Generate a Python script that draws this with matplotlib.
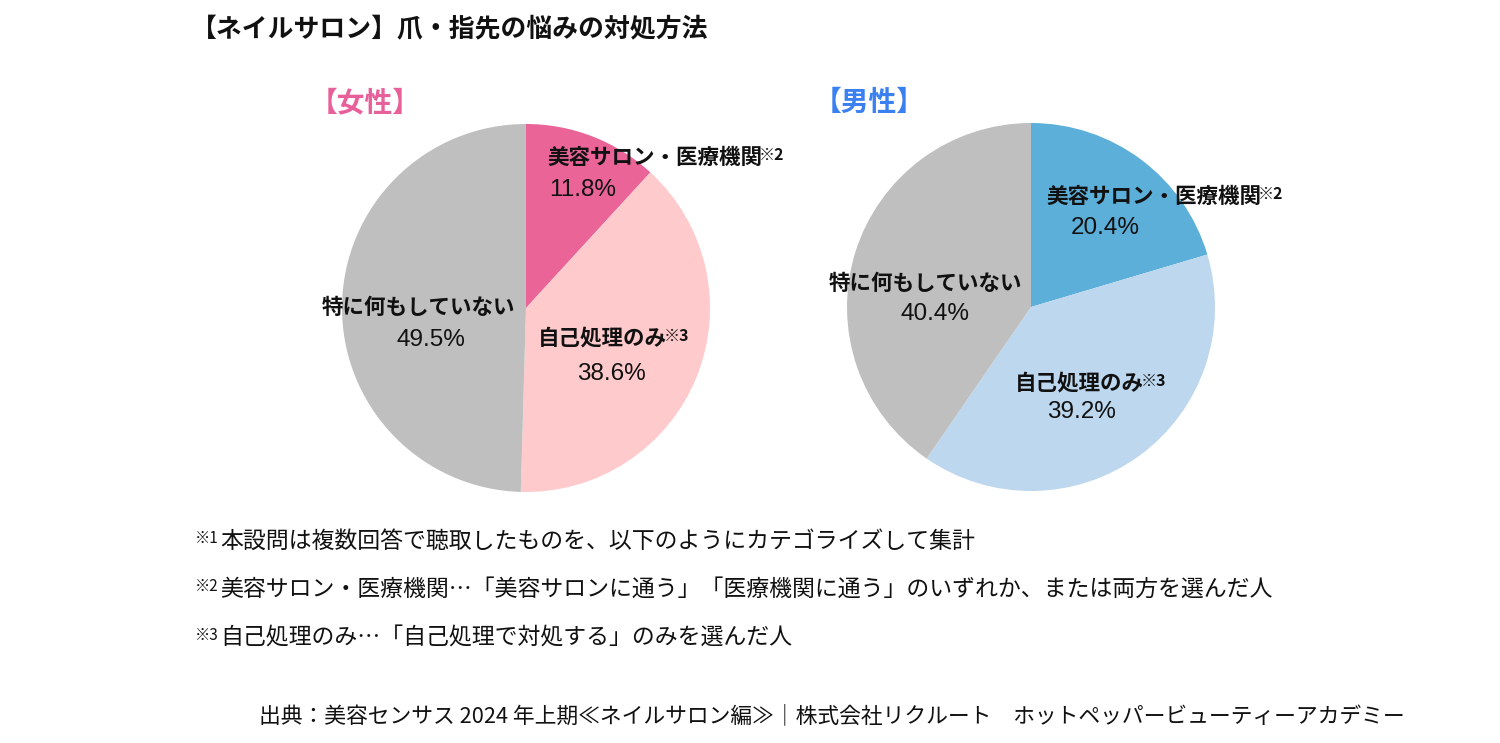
import matplotlib
matplotlib.use("Agg")
import matplotlib.pyplot as plt

plt.rcParams['font.family'] = ['Noto Sans CJK JP', 'DejaVu Sans']

W, H = 1500, 743

title = "【ネイルサロン】爪・指先の悩みの対処方法"
categories = ["美容サロン・医療機関", "自己処理のみ", "特に何もしていない"]
cat_notes = ["※2", "※3", ""]
groups = ["【女性】", "【男性】"]
female_values = [11.8, 38.6, 49.5]
male_values = [20.4, 39.2, 40.4]
female_colors = ["#EA6498", "#FFCACB", "#BFBFBF"]
male_colors = ["#5CAFD8", "#BDD7EE", "#BFBFBF"]
group_colors = ["#E8609A", "#3A80F0"]
footnotes = [
    ("※1", "本設問は複数回答で聴取したものを、以下のようにカテゴライズして集計"),
    ("※2", "美容サロン・医療機関…「美容サロンに通う」「医療機関に通う」のいずれか、または両方を選んだ人"),
    ("※3", "自己処理のみ…「自己処理で対処する」のみを選んだ人"),
]
source = "出典：美容センサス 2024 年上期≪ネイルサロン編≫｜株式会社リクルート　ホットペッパービューティーアカデミー"

fig = plt.figure(figsize=(W / 100, H / 100), dpi=100)
fig.patch.set_facecolor("white")


def fx(x):
    return x / W


def fy(y):
    return 1 - y / H


def add_text(x, y, s, **kw):
    return fig.text(fx(x), fy(y), s, **kw)


# title
add_text(191, 30, title, fontsize=18.6, fontweight='bold', va='center', ha='left', color='#111111')

# pies: (center x, center y, radius) in pixels
pie_geoms = [(526, 308, 184), (1031, 307, 184)]
all_values = [female_values, male_values]
all_colors = [female_colors, male_colors]
group_pos = [(310, 103), (814, 103)]

# label layouts: per pie, per category: (x, y, ha) for name, (x, y, ha) for value
label_layout = [
    [((547, 157, 'left'), (549, 190, 'left')),
     ((538, 338, 'left'), (611, 374, 'center')),
     ((418, 307, 'center'), (431, 340, 'center'))],
    [((1046, 196, 'left'), (1105, 228, 'center')),
     ((1015, 383, 'left'), (1081, 412, 'center')),
     ((925, 283, 'center'), (935, 314, 'center'))],
]

pie_axes = []
for i, (cx, cy, r) in enumerate(pie_geoms):
    ax = fig.add_axes([fx(cx - r), fy(cy + r), 2 * r / W, 2 * r / H])
    ax.pie(all_values[i], colors=all_colors[i], startangle=90, counterclock=False,
           radius=1, wedgeprops=dict(linewidth=0))
    ax.set_xlim(-1, 1)
    ax.set_ylim(-1, 1)
    ax.set_aspect('auto')
    ax.axis('off')
    pie_axes.append(ax)

    gx, gy = group_pos[i]
    add_text(gx, gy, groups[i], fontsize=20, fontweight='bold', color=group_colors[i],
             va='center', ha='left')

    for j, cat in enumerate(categories):
        (nx, ny, nha), (vx, vy, vha) = label_layout[i][j]
        t = add_text(nx, ny, cat, fontsize=15.5, fontweight='bold', va='center', ha=nha,
                     color='#111111')
        if cat_notes[j]:
            ax.annotate(cat_notes[j], xy=(1.0, 1.0), xycoords=t, xytext=(-2, 0),
                        textcoords='offset points', fontsize=11.5,
                        fontweight='bold', color='#111111', va='top', ha='left',
                        annotation_clip=False)
        add_text(vx, vy, f"{all_values[i][j]:.1f}%", fontsize=17.5, va='center', ha=vha,
                 family=['Liberation Sans', 'DejaVu Sans'], color='#111111')

# footnotes
foot_y = [541, 589, 638]
for (mark, txt), y in zip(footnotes, foot_y):
    t = add_text(220, y, txt, fontsize=16.5, va='center', ha='left', color='#111111')
    pie_axes[0].annotate(mark, xy=(0.0, 1.0), xycoords=t, xytext=(-1, 0),
                         textcoords='offset points', fontsize=11, va='top',
                         ha='right', color='#111111', annotation_clip=False)

# source
add_text(1405, 716, source, fontsize=15.7, va='center', ha='right', color='#111111')

fig.savefig("out.png", dpi=100, facecolor='white')
